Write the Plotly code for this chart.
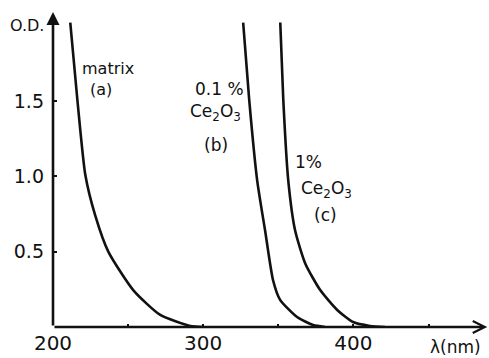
import plotly.graph_objects as go

# wavelength (nm) and optical density for each curve
wl_a = [211.5, 216.2, 221.5, 228.1, 236.8, 253.4, 271.4, 291.3, 300.0]
od_a = [2.02, 1.51, 1.01, 0.74, 0.50, 0.245, 0.08, 0.007, 0.0]

wl_b = [326.6, 330.6, 335.9, 341.2, 346.5, 351.2, 362.5, 373.2, 381.0]
od_b = [2.02, 1.51, 0.975, 0.64, 0.31, 0.18, 0.066, 0.013, 0.0]

wl_c = [351.3, 353.3, 356.6, 361.2, 368.0, 377.9, 389.2, 399.8, 411.0, 421.0]
od_c = [2.02, 1.51, 0.975, 0.64, 0.42, 0.245, 0.113, 0.033, 0.007, 0.0]

x_tickvals = [200, 250, 300, 350, 400, 450]
x_ticktext = ["200", "", "300", "", "400", ""]
y_tickvals = [0.5, 1.0, 1.5]
y_ticktext = ["0.5", "1.0", "1.5"]

X_MAX = 489.6
Y_MAX = 2.09
INK = "#111111"
FONT = "DejaVu Sans"

fig = go.Figure()
for wl, od in [(wl_a, od_a), (wl_b, od_b), (wl_c, od_c)]:
    fig.add_trace(go.Scatter(x=wl, y=od, mode="lines",
                             line=dict(color=INK, width=2.6, shape="spline", smoothing=0.6),
                             showlegend=False, hoverinfo="skip"))

# axis arrows
fig.add_annotation(x=200, y=Y_MAX, ax=200, ay=0, xref="x", yref="y", axref="x", ayref="y",
                   text="", showarrow=True, arrowhead=2, arrowsize=1.0, arrowwidth=2.6,
                   arrowcolor=INK)
fig.add_annotation(x=X_MAX - 0.5, y=0, ax=200, ay=0, xref="x", yref="y", axref="x", ayref="y",
                   text="", showarrow=True, arrowhead=5, arrowsize=0.9, arrowwidth=2.6,
                   arrowcolor=INK)

def label(text, x, y, size=17, ref="data"):
    r = ("x", "y") if ref == "data" else ("paper", "paper")
    fig.add_annotation(x=x, y=y, xref=r[0], yref=r[1], text=text, showarrow=False,
                       xanchor="center", yanchor="middle",
                       font=dict(family=FONT, size=size, color=INK))

label("O.D.", -0.06, 0.956, size=16, ref="paper")
label("λ(nm)", 0.926, -0.062, size=17, ref="paper")
label("matrix", 236.8, 1.715, size=16)
label("(a)", 232.1, 1.575, size=16)
label("0.1 %", 310.8, 1.58)
label("Ce<sub>2</sub>O<sub>3</sub>", 308.1, 1.42)
label("(b)", 308.6, 1.21)
label("1%", 369.9, 1.095)
label("Ce<sub>2</sub>O<sub>3</sub>", 381.8, 0.91)
label("(c)", 381.1, 0.74)

fig.update_xaxes(range=[200, X_MAX], showgrid=False, zeroline=False, showline=False,
                 tickvals=x_tickvals, ticktext=x_ticktext, ticks="inside", ticklen=3,
                 tickwidth=2, tickcolor=INK, ticklabelstandoff=2,
                 tickfont=dict(family=FONT, size=20, color=INK))
fig.update_yaxes(range=[0, Y_MAX], showgrid=False, zeroline=False, showline=False,
                 tickvals=y_tickvals, ticktext=y_ticktext, ticks="inside", ticklen=4,
                 tickwidth=2, tickcolor=INK, ticklabelstandoff=8,
                 tickfont=dict(family=FONT, size=19, color=INK))

fig.update_layout(width=489, height=358, margin=dict(l=53, r=1, t=12, b=31),
                  paper_bgcolor="white", plot_bgcolor="white", showlegend=False)

fig.write_html("out.html")
